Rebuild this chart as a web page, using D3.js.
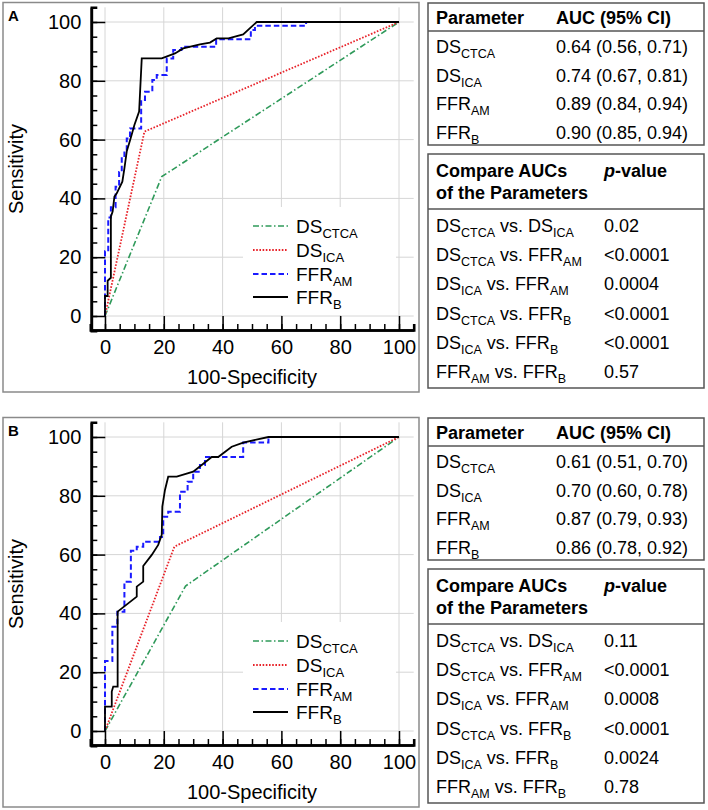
<!DOCTYPE html>
<html><head><meta charset="utf-8">
<script src="https://cdn.jsdelivr.net/npm/d3@7"></script>
<style>body{margin:0;background:#fff} svg{display:block;font-family:"Liberation Sans",Arial,Helvetica,sans-serif}</style>
</head><body><svg id="c" width="708" height="810"></svg>
<script>
// ---------- data ----------
const majorTicks = [0, 20, 40, 60, 80, 100];
const minorTicks = d3.range(0, 101, 5);
const panelNames = ["A", "B"];
const seriesLabels = [["DS", "CTCA"], ["DS", "ICA"], ["FFR", "AM"], ["FFR", "B"]];

// Panel A ROC curves: [100-Specificity, Sensitivity]
const rocA_CTCA = [[0, 0], [19.3, 47.4], [100, 100]];
const rocA_ICA = [[0, 0], [13.4, 62.7], [100, 100]];
const rocA_AM = [[0, 0], [0, 22], [1.1, 22], [1.1, 33.5], [2, 33.5], [2, 37], [3.6, 37], [3.6, 44], [4.8, 44], [4.8, 49], [5.7, 49], [5.7, 54], [6.6, 54], [6.6, 56], [7.4, 56], [7.4, 60.4], [8.5, 60.4], [8.5, 63.8], [12.3, 63.8], [12.3, 73.5], [13.6, 73.5], [13.6, 76.3], [16.1, 76.3], [16.1, 80.3], [17.6, 80.3], [17.6, 82], [21, 82], [21, 87.6], [23.2, 87.6], [23.2, 90.5], [26, 90.5], [26, 91.6], [37.8, 91.6], [37.8, 94.1], [49.6, 94.1], [49.6, 97.3], [51, 97.3], [51, 98.7], [68.4, 98.7], [68.4, 100], [100, 100]];
const rocA_B = [[0, 0], [0, 6.8], [0.9, 6.8], [0.9, 12], [2, 13], [2, 33.8], [2.6, 35.5], [3.2, 40.6], [4, 41.7], [5.9, 45.7], [6.6, 50.2], [7.4, 56], [8.8, 60.7], [10, 65], [11.6, 69.5], [12.5, 87.6], [19.3, 87.6], [23.8, 89.3], [26.6, 91], [32.3, 92.4], [35.7, 93], [38, 94.4], [42, 94.4], [47, 95.8], [51.6, 100], [100, 100]];

// Panel B ROC curves
const rocB_CTCA = [[0, 0], [27.4, 49.3], [100, 100]];
const rocB_ICA = [[0, 0], [23.6, 62.7], [100, 100]];
const rocB_AM = [[0, 0], [0, 23.8], [2.5, 23.8], [2.5, 35.5], [4.2, 35.5], [4.2, 40.6], [6.6, 40.6], [6.6, 50.8], [8.8, 50.8], [8.8, 61.3], [10.8, 61.3], [10.8, 62.7], [13, 62.7], [13, 64.4], [18.7, 64.4], [18.7, 66], [19.8, 66], [19.8, 72.9], [21.5, 72.9], [21.5, 74.6], [25.5, 74.6], [25.5, 81.4], [28.1, 81.4], [28.1, 84.8], [30, 84.8], [30, 88.2], [32.3, 88.2], [32.3, 90.5], [34, 90.5], [34, 93.2], [47, 93.2], [47, 98.1], [55.6, 98.1], [55.6, 100], [100, 100]];
const rocB_B = [[0, 0], [0, 8.3], [2.3, 8.3], [2.3, 13.4], [2.8, 15.1], [4.3, 15.1], [4.3, 40.6], [10.8, 45.7], [10.8, 49.1], [13, 50.8], [13, 56.1], [15.9, 59.9], [18.1, 63.3], [19.3, 66.7], [19.5, 76.3], [20.4, 82], [21.5, 86.5], [24.4, 86.5], [30, 88.2], [32.9, 90.5], [36.3, 93.2], [38.5, 93.2], [43.1, 96.7], [47, 98.1], [55.6, 100], [100, 100]];

// Tables
const aucHeader = ["Parameter", "AUC (95% CI)"];
const aucA = ["0.64 (0.56, 0.71)", "0.74 (0.67, 0.81)", "0.89 (0.84, 0.94)", "0.90 (0.85, 0.94)"];
const aucB = ["0.61 (0.51, 0.70)", "0.70 (0.60, 0.78)", "0.87 (0.79, 0.93)", "0.86 (0.78, 0.92)"];
const compareHeader = ["Compare AUCs", "of the Parameters", "p-value"];
const comparePairs = [[0, 1], [0, 2], [1, 2], [0, 3], [1, 3], [2, 3]];
const pA = ["0.02", "<0.0001", "0.0004", "<0.0001", "<0.0001", "0.57"];
const pB = ["0.11", "<0.0001", "0.0008", "<0.0001", "0.0024", "0.78"];

// ---------- styles ----------
const seriesStyle = [
  {color: "#2f9a5a", dash: "6,2.5,1.5,2.5", w: 1.6},
  {color: "#e8232a", dash: "1.6,1.6", w: 1.8},
  {color: "#1a1aff", dash: "5.5,3", w: 2},
  {color: "#000000", dash: null, w: 1.8}
];

const svg = d3.select("#c");

function rich(g, x, y, parts, size, subSize, weight) {
  const t = g.append("text").attr("x", x).attr("y", y)
    .attr("font-size", size).attr("font-weight", weight || "normal").attr("fill", "#000");
  let shifted = false;
  parts.forEach(p => {
    const ts = t.append("tspan").text(p.t);
    if (p.sub) { ts.attr("font-size", subSize); if (!shifted) { ts.attr("dy", 5); shifted = true; } }
    else { if (shifted) { ts.attr("dy", -5); shifted = false; } }
  });
  return t;
}
const lab = i => [{t: seriesLabels[i][0]}, {t: seriesLabels[i][1], sub: true}];

function drawPanel(pi, oy, curves, aucVals, pVals) {
  const g = svg.append("g");
  // panel border
  g.append("rect").attr("x", 3).attr("y", oy + 2.5).attr("width", 416).attr("height", 389.5)
    .attr("fill", "none").attr("stroke", "#8a8a8a").attr("stroke-width", 1.5);
  g.append("text").attr("x", 8).attr("y", oy + 21).attr("font-size", 15).attr("font-weight", "bold").text(panelNames[pi]);

  const x = d3.scaleLinear().domain([-5, 105]).range([90.3, 413.7]);
  const y = d3.scaleLinear().domain([-5, 105]).range([oy + 330.7, oy + 7.3]);

  // grid
  const grid = g.append("g").attr("stroke", "#d6d6d6").attr("stroke-width", 1);
  grid.selectAll(".h").data(majorTicks).join("line")
    .attr("x1", x(-5)).attr("x2", x(105)).attr("y1", d => y(d)).attr("y2", d => y(d));
  grid.selectAll(".v").data(majorTicks).join("line")
    .attr("y1", y(-5)).attr("y2", y(105)).attr("x1", d => x(d)).attr("x2", d => x(d));

  // legend background
  g.append("rect").attr("x", 243).attr("y", oy + 207).attr("width", 153).attr("height", 108).attr("fill", "#fff");

  // curves
  const line = d3.line().x(d => x(d[0])).y(d => y(d[1]));
  curves.forEach((c, i) => {
    const s = seriesStyle[i];
    g.append("path").datum(c).attr("d", line).attr("fill", "none")
      .attr("stroke", s.color).attr("stroke-width", s.w)
      .attr("stroke-dasharray", s.dash).attr("stroke-linejoin", "miter");
  });

  // axes
  const ax0 = x(-5) + 1, ay0 = y(-5) - 0.7;
  const yMinor = d3.axisLeft(y).tickValues(minorTicks).tickSize(-6).tickFormat("");
  const yMajor = d3.axisLeft(y).tickValues(majorTicks).tickSize(-14).tickPadding(10).tickSizeOuter(0);
  const xMinor = d3.axisBottom(x).tickValues(minorTicks).tickSize(-6).tickFormat("");
  const xMajor = d3.axisBottom(x).tickValues(majorTicks).tickSize(-14).tickPadding(9.5).tickSizeOuter(0);
  [yMinor, yMajor].forEach(a => {
    const ga = g.append("g").attr("transform", `translate(${ax0},0)`).call(a);
    ga.select(".domain").attr("stroke-width", 2.6);
    ga.selectAll(".tick line").attr("stroke-width", 1.5);
    ga.selectAll("text").attr("font-size", 20).attr("font-family", null).attr("fill", "#000");
  });
  [xMinor, xMajor].forEach(a => {
    const ga = g.append("g").attr("transform", `translate(0,${ay0})`).call(a);
    ga.select(".domain").attr("stroke-width", 2.6);
    ga.selectAll(".tick line").attr("stroke-width", 1.5);
    ga.selectAll("text").attr("font-size", 20).attr("font-family", null).attr("fill", "#000");
  });
  g.selectAll(".domain").attr("stroke", "#000");

  // axis titles
  g.append("text").attr("x", x(50)).attr("y", oy + 384).attr("text-anchor", "middle")
    .attr("font-size", 20).text("100-Specificity");
  g.append("text").attr("transform", `translate(23,${y(50)}) rotate(-90)`).attr("text-anchor", "middle")
    .attr("font-size", 20).text("Sensitivity");

  // legend
  const legY = [226, 250, 274, 297];
  seriesLabels.forEach((l, i) => {
    const s = seriesStyle[i];
    g.append("line").attr("x1", 253).attr("x2", 288).attr("y1", oy + legY[i]).attr("y2", oy + legY[i])
      .attr("stroke", s.color).attr("stroke-width", s.w).attr("stroke-dasharray", s.dash);
    rich(g, 296, oy + legY[i] + 6.5, lab(i), 19, 13);
  });

  // AUC table
  const tx0 = 428, tx1 = 704, c1 = 436, c2 = 556, c3 = 604;
  g.append("rect").attr("x", tx0).attr("y", oy + 3).attr("width", tx1 - tx0).attr("height", 142)
    .attr("fill", "none").attr("stroke", "#555").attr("stroke-width", 1.5);
  g.append("line").attr("x1", tx0).attr("x2", tx1).attr("y1", oy + 31).attr("y2", oy + 31)
    .attr("stroke", "#555").attr("stroke-width", 1.5);
  g.append("text").attr("x", c1).attr("y", oy + 24).attr("font-size", 18).attr("font-weight", "bold").text(aucHeader[0]);
  g.append("text").attr("x", c2).attr("y", oy + 24).attr("font-size", 18).attr("font-weight", "bold").text(aucHeader[1]);
  aucVals.forEach((v, i) => {
    const by = oy + 53 + i * 28.5;
    rich(g, c1, by, lab(i), 18, 12.5);
    g.append("text").attr("x", c2).attr("y", by).attr("font-size", 18).text(v);
  });

  // comparison table
  g.append("rect").attr("x", tx0).attr("y", oy + 154).attr("width", tx1 - tx0).attr("height", 234)
    .attr("fill", "none").attr("stroke", "#555").attr("stroke-width", 1.5);
  g.append("line").attr("x1", tx0).attr("x2", tx1).attr("y1", oy + 209).attr("y2", oy + 209)
    .attr("stroke", "#555").attr("stroke-width", 1.5);
  g.append("text").attr("x", c1).attr("y", oy + 177).attr("font-size", 18).attr("font-weight", "bold").text(compareHeader[0]);
  g.append("text").attr("x", c1).attr("y", oy + 199).attr("font-size", 18).attr("font-weight", "bold").text(compareHeader[1]);
  const ph = g.append("text").attr("x", c3).attr("y", oy + 177).attr("font-size", 18).attr("font-weight", "bold");
  ph.append("tspan").attr("font-style", "italic").text(compareHeader[2].slice(0, 1));
  ph.append("tspan").text(compareHeader[2].slice(1));
  comparePairs.forEach((pr, i) => {
    const by = oy + 232 + i * 29.2;
    const parts = lab(pr[0]).concat([{t: " vs. "}], lab(pr[1]));
    rich(g, c1, by, parts, 18, 12.5);
    g.append("text").attr("x", c3).attr("y", by).attr("font-size", 18).text(pVals[i]);
  });
}

drawPanel(0, 0, [rocA_CTCA, rocA_ICA, rocA_AM, rocA_B], aucA, pA);
drawPanel(1, 415, [rocB_CTCA, rocB_ICA, rocB_AM, rocB_B], aucB, pB);
</script></body></html>
